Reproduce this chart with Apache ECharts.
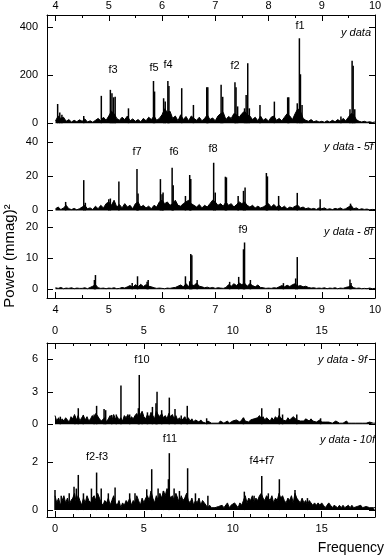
<!DOCTYPE html>
<html>
<head>
<meta charset="utf-8">
<script src="https://cdn.jsdelivr.net/npm/echarts@6/dist/echarts.min.js"></script>
<style>
html, body { margin: 0; padding: 0; background: #fff; }
#chart { width: 385px; height: 556px; }
</style>
</head>
<body>
<div id="chart"></div>
<script>
// noise floors are sampled on a regular frequency grid
var topStart = 4.0, topStep = 0.05;
var lowStart = 0.0, lowStep = 0.1;

// panel 1: y data
var noise1 = [
  10, 30, 20, 25, 8, 15, 5, 12, 6, 14,
  8, 18, 5, 10, 4, 12, 20, 10, 25, 12,
  30, 50, 40, 20, 12, 25, 15, 30, 10, 18,
  8, 15, 6, 20, 10, 25, 15, 30, 12, 20,
  35, 60, 45, 50, 20, 30, 10, 35, 15, 28,
  10, 30, 20, 12, 25, 10, 20, 35, 15, 22,
  10, 30, 40, 45, 15, 28, 20, 40, 35, 25,
  40, 50, 35, 30, 15, 25, 10, 30, 12, 20,
  8, 25, 30, 12, 20, 10, 25, 40, 30, 15,
  40, 60, 50, 20, 12, 8, 15, 6, 10, 5,
  8, 4, 10, 5, 12, 6, 15, 8, 20, 10,
  25, 40, 35, 15, 8, 5, 8, 4, 6, 3, 5
];
var peaks1 = [
  [4.04, 80], [4.08, 45], [4.12, 35], [4.53, 30], [4.86, 114],
  [5.03, 139], [5.06, 125], [5.09, 108], [5.12, 110], [5.37, 62],
  [5.84, 176], [5.86, 132], [6.03, 104], [6.06, 90], [6.11, 176],
  [6.13, 155], [6.37, 146], [6.59, 76], [6.84, 150], [6.86, 150],
  [7.11, 160], [7.14, 110], [7.37, 171], [7.39, 150], [7.42, 70],
  [7.55, 62], [7.58, 118], [7.61, 250], [7.64, 62], [7.84, 76],
  [8.11, 90], [8.36, 108], [8.38, 108], [8.54, 83], [8.58, 354],
  [8.60, 204], [8.63, 76], [9.36, 28], [9.53, 58], [9.57, 260],
  [9.59, 239], [9.62, 58]
];

// panel 2: y data - 5f
var noise2 = [
  1, 2, 0.5, 1.5, 3, 1, 0.5, 1.2, 0.4, 1,
  2, 3, 1, 1.5, 0.5, 2.5, 1, 3, 1.5, 4,
  5, 3, 6, 2, 3.5, 1.5, 4, 2, 3, 1,
  4, 5, 2, 3, 1.5, 2.5, 1, 3, 2, 5,
  6, 4, 5, 3, 4, 6, 3, 2.5, 4, 5,
  6, 4, 3, 2, 3.5, 1.5, 3, 2, 4, 6,
  5, 3, 4, 2.5, 5, 3, 4, 2, 3.5, 5,
  4, 5, 3, 2, 3, 1.5, 2.5, 1.5, 2, 3,
  4, 2, 3.5, 2, 3, 1.5, 2.5, 1, 2, 1.5,
  2.5, 3, 1.5, 2, 1, 1.5, 0.8, 1.2, 0.6, 1.5,
  1, 1.5, 0.6, 1, 0.5, 1.2, 0.8, 1.5, 0.6, 1,
  2, 3, 1, 1.5, 0.5, 1, 0.6, 0.8, 0.4, 0.6, 0.5
];
var peaks2 = [
  [4.19, 5], [4.53, 17.8], [4.56, 4.5], [5.0, 6.5], [5.03, 7],
  [5.19, 17], [5.53, 24.4], [5.55, 10], [5.97, 18.4], [6.0, 9.5],
  [6.02, 10.5], [6.19, 25], [6.21, 14.8], [6.44, 8.5], [6.52, 20.8],
  [6.54, 18.4], [6.97, 28], [7.0, 10.5], [7.19, 19.8], [7.21, 19.4],
  [7.43, 8.5], [7.53, 11.5], [7.56, 13.5], [7.96, 22], [7.98, 20],
  [8.19, 8.5], [8.54, 10.3], [8.97, 6.5], [9.54, 4]
];

// panel 3: y data - 8f
var noise3 = [
  0.5, 0.3, 0.6, 0.2, 0.4, 0.3, 0.5, 0.2, 0.4, 0.3,
  0.3, 0.5, 0.2, 0.6, 1, 1.5, 0.5, 0.3, 0.4, 0.2,
  0.4, 0.3, 0.5, 0.2, 0.3, 0.6, 0.4, 0.8, 1.2, 0.6,
  1.5, 0.8, 1.6, 0.9, 1.5, 1, 0.8, 0.5, 0.3, 0.4,
  0.3, 0.2, 0.4, 0.3, 0.5, 0.6, 1, 1.4, 0.8, 1.8,
  1, 1.5, 1.2, 2, 1, 0.8, 0.5, 0.7, 0.4, 0.6,
  0.3, 0.5, 0.4, 0.3, 0.6, 1.5, 1, 1.8, 1.2, 2,
  1.5, 2, 1, 1.8, 1.2, 0.8, 1.4, 0.6, 0.5, 0.3,
  0.4, 0.3, 0.5, 0.4, 0.8, 1.2, 0.8, 1.3, 0.9, 1.5,
  1.8, 1, 1.2, 0.8, 1, 0.6, 0.4, 0.5, 0.3, 0.4,
  0.3, 0.5, 0.2, 0.4, 0.3, 0.5, 0.2, 0.4, 0.3, 0.6,
  0.8, 1.2, 0.5, 0.3, 0.4, 0.2, 0.3, 0.2, 0.4, 0.2, 0.3
];
var peaks3 = [
  [4.73, 3], [4.75, 4.6], [5.44, 2], [5.54, 4.2], [5.72, 2.4],
  [5.74, 3], [6.44, 4.2], [6.52, 2.6], [6.54, 11.4], [6.56, 11],
  [6.66, 3], [7.27, 2.4], [7.44, 4], [7.53, 12.9], [7.55, 15.1],
  [7.66, 3], [8.28, 2], [8.51, 3.5], [8.54, 10.4], [9.53, 3.2],
  [9.55, 2]
];

// panel 4: y data - 9f
var noise4 = [
  0.8, 0.3, 0.6, 0.2, 0.5, 0.3, 0.6, 0.4, 0.2, 0.7,
  0.5, 0.9, 0.4, 0.8, 0.3, 0.6, 0.8, 0.4, 0.7, 0.3,
  0.5, 0.8, 0.6, 1.0, 0.9, 0.5, 0.3, 0.4, 0.6, 0.2,
  0.5, 0.8, 0.3, 0.9, 0.5, 0.7, 0.4, 0.6, 0.3, 0.8,
  0.6, 0.9, 0.4, 0.7, 0.5, 0.8, 1.0, 0.6, 0.9, 1.2,
  0.7, 0.5, 0.9, 0.6, 1.1, 0.8, 0.5, 1.2, 0.9, 0.7,
  1.0, 0.6, 0.8, 0.5, 1.0, 0.7, 0.9, 0.5, 0.8, 0.4,
  0.6, 0.3, 0.5, 0.7, 0.4, 0.6, 0.3, 0.5, 0.2, 0.4,
  0.3, 0.2, 0.4, 0.2, 0.3, 0.1, 0.3, 0.2, 0.1, 0.2,
  0.1, 0.2, 0.1, 0.3, 0.2, 0.1, 0.2, 0.3, 0.1, 0.2,
  0.3, 0.2, 0.4, 0.3, 0.2, 0.4, 0.6, 0.3, 0.4, 0.2,
  0.4, 0.3, 0.5, 0.4, 0.6, 0.8, 0.5, 0.7, 0.4, 0.6,
  0.5, 0.3, 0.6, 0.4, 0.7, 0.5, 0.8, 0.6, 0.4, 0.5,
  0.3, 0.6, 0.4, 0.5, 0.7, 0.6, 0.4, 0.5, 0.3, 0.4,
  0.3, 0.5, 0.4, 0.3, 0.5, 0.3, 0.4, 0.2, 0.3, 0.4,
  0.2, 0.3, 0.2, 0.3, 0.2, 0.3, 0.1, 0.2, 0.3, 0.2,
  0.1, 0.2, 0.1, 0.2, 0.3, 0.1, 0.2, 0.1, 0.2, 0.1,
  0.2, 0.1, 0.2, 0.1, 0.2, 0.1, 0.1, 0.2, 0.1, 0.1, 0.1
];
var peaks4 = [
  [0.3, 0.7], [1.12, 0.75], [1.31, 1.48], [1.59, 0.86], [2.2, 0.9],
  [2.34, 1.7], [2.76, 1.4], [2.85, 1.3], [3.19, 0.86], [3.45, 0.9],
  [3.71, 3.57], [4.2, 0.9], [4.69, 1.48], [4.74, 4.55], [4.9, 1.0],
  [5.2, 1.1], [5.48, 1.6], [5.68, 1.94], [5.74, 3.0], [6.0, 1.3],
  [6.43, 2.46], [6.75, 1.4], [7.1, 0.8], [7.44, 1.7], [8.53, 0.55],
  [10.6, 0.6], [11.63, 1.48], [12.62, 1.48], [12.8, 0.9], [13.6, 0.9],
  [14.94, 0.55]
];

// panel 5: y data - 10f
var noise5 = [
  0.6, 0.3, 0.5, 0.2, 0.4, 0.6, 0.3, 0.5, 0.2, 0.4,
  0.5, 0.7, 0.3, 0.6, 0.4, 0.2, 0.5, 0.3, 0.6, 0.4,
  0.3, 0.5, 0.6, 0.4, 0.7, 0.5, 0.3, 0.2, 0.4, 0.3,
  0.5, 0.2, 0.4, 0.6, 0.3, 0.2, 0.4, 0.1, 0.3, 0.2,
  0.4, 0.3, 0.5, 0.2, 0.4, 0.3, 0.6, 0.4, 0.2, 0.5,
  0.3, 0.5, 0.6, 0.4, 0.8, 0.5, 0.3, 0.6, 0.4, 0.7,
  0.5, 0.8, 0.6, 0.9, 0.7, 0.5, 0.6, 0.4, 0.7, 0.5,
  0.3, 0.6, 0.4, 0.5, 0.7, 0.4, 0.3, 0.5, 0.2, 0.4,
  0.3, 0.5, 0.2, 0.4, 0.3, 0.2, 0.1, 0.2, 0.1, 0.1,
  0.1, 0.05, 0.15, 0.1, 0.2, 0.1, 0.1, 0.3, 0.1, 0.2,
  0.2, 0.3, 0.2, 0.1, 0.3, 0.2, 0.4, 0.6, 0.3, 0.5,
  0.4, 0.6, 0.3, 0.5, 0.4, 0.6, 0.7, 0.5, 0.4, 0.6,
  0.5, 0.4, 0.6, 0.3, 0.5, 0.4, 0.7, 0.5, 0.6, 0.4,
  0.3, 0.5, 0.4, 0.6, 0.3, 0.7, 0.5, 0.4, 0.3, 0.5,
  0.3, 0.4, 0.2, 0.4, 0.3, 0.2, 0.3, 0.2, 0.3, 0.2,
  0.3, 0.2, 0.1, 0.2, 0.3, 0.2, 0.1, 0.2, 0.2, 0.1,
  0.2, 0.1, 0.2, 0.1, 0.15, 0.2, 0.1, 0.2, 0.1, 0.1,
  0.15, 0.1, 0.2, 0.1, 0.1, 0.15, 0.1, 0.1, 0.05, 0.1, 0.1
];
var peaks5 = [
  [0.0, 0.84], [0.35, 0.6], [0.8, 0.7], [1.07, 0.98], [1.2, 0.9],
  [1.31, 1.47], [1.6, 0.7], [2.05, 0.9], [2.34, 1.57], [2.6, 0.9],
  [3.0, 0.7], [3.38, 0.94], [4.2, 0.7], [4.5, 0.7], [5.16, 0.87],
  [5.44, 1.71], [5.8, 0.9], [6.1, 0.8], [6.38, 1.29], [6.43, 2.38],
  [6.7, 0.9], [7.0, 0.8], [7.46, 1.75], [7.9, 0.7], [8.6, 0.6],
  [10.65, 0.77], [11.2, 0.6], [11.63, 1.43], [12.0, 0.7], [12.62, 1.29],
  [13.5, 0.84], [14.2, 0.5]
];

// tick labels
var ticksTop = [4, 5, 6, 7, 8, 9, 10];
var minorTop = [4.5, 5.5, 6.5, 7.5, 8.5, 9.5];
var ticksLow = [0, 5, 10, 15];
var minorLow = [1, 2, 3, 4, 6, 7, 8, 9, 11, 12, 13, 14, 16, 17];
var yTicks = [[0, 200, 400], [0, 20, 40], [0, 10, 20], [0, 3, 6], [0, 2]];
var yRanges = [[-20, 451], [-1.5, 48.4], [-2.8, 24.6], [-0.53, 7.5], [-0.29, 3.35]];

var font = '"Liberation Sans", Arial, sans-serif';
var ink = '#000';

function noiseLine(arr, start, step) {
  return arr.map(function (v, i) {
    return [+(start + i * step).toFixed(3), v];
  });
}

var grids = [
  { left: 47, right: 10, top: 15, height: 113 },
  { left: 47, right: 10, top: 128, height: 85 },
  { left: 47, right: 10, top: 213, height: 85 },
  { left: 47, right: 10, top: 343, height: 87 },
  { left: 47, right: 10, top: 430, height: 87 }
];

function xAx(grid, pos, lo, hi, ticks, len, labels, margin) {
  return {
    type: 'value', gridIndex: grid, position: pos, min: lo, max: hi,
    axisLine: { show: labels, onZero: false, lineStyle: { color: ink, width: 1 } },
    axisTick: { show: true, inside: true, length: len, customValues: ticks, lineStyle: { color: ink } },
    axisLabel: { show: labels, customValues: ticks, color: ink, fontSize: 11, fontFamily: font, margin: margin },
    splitLine: { show: false }
  };
}

var xAxes = [
  xAx(0, 'top', 3.84, 10, ticksTop, 6, true, 4),
  xAx(0, 'top', 3.84, 10, minorTop, 3, false, 4),
  { type: 'value', gridIndex: 1, min: 3.84, max: 10, show: false },
  xAx(2, 'bottom', 3.84, 10, ticksTop, 6, true, 6),
  xAx(2, 'bottom', 3.84, 10, minorTop, 3, false, 6),
  xAx(3, 'top', -0.45, 18, ticksLow, 6, true, 7),
  xAx(3, 'top', -0.45, 18, minorLow, 3, false, 7),
  xAx(4, 'bottom', -0.45, 18, ticksLow, 6, true, 6),
  xAx(4, 'bottom', -0.45, 18, minorLow, 3, false, 6)
];
var xOfGrid = [0, 2, 3, 5, 7];

var yAxes = [];
for (var i = 0; i < 5; i++) {
  ['left', 'right'].forEach(function (pos) {
    yAxes.push({
      type: 'value', gridIndex: i, position: pos,
      min: yRanges[i][0], max: yRanges[i][1],
      axisLine: { show: true, onZero: false, lineStyle: { color: ink, width: 1 } },
      axisTick: { show: true, inside: true, length: 6, customValues: yTicks[i], lineStyle: { color: ink } },
      axisLabel: { show: pos === 'left', customValues: yTicks[i], color: ink, fontSize: 11, fontFamily: font, margin: 9 },
      splitLine: { show: false }
    });
  });
}

var noises = [noiseLine(noise1, topStart, topStep), noiseLine(noise2, topStart, topStep),
  noiseLine(noise3, topStart, topStep), noiseLine(noise4, lowStart, lowStep),
  noiseLine(noise5, lowStart, lowStep)];
var peaks = [peaks1, peaks2, peaks3, peaks4, peaks5];

var series = [];
for (var k = 0; k < 5; k++) {
  series.push({
    type: 'line', xAxisIndex: xOfGrid[k], yAxisIndex: 2 * k,
    data: noises[k], symbol: 'none', silent: true,
    lineStyle: { color: ink, width: 1 },
    areaStyle: { color: ink, opacity: 1 }
  });
  series.push({
    type: 'bar', xAxisIndex: xOfGrid[k], yAxisIndex: 2 * k,
    data: peaks[k], barWidth: 1.5, silent: true,
    itemStyle: { color: ink }
  });
}

function txt(x, y, s, align, italic, size) {
  return {
    type: 'text', x: x, y: y, silent: true,
    style: {
      text: s, fill: ink, font: (italic ? 'italic ' : '') + (size || 11) + 'px ' + font,
      align: align || 'center', verticalAlign: 'middle'
    }
  };
}

var texts = [
  txt(300, 26, 'f1'), txt(113, 70, 'f3'), txt(154, 68, 'f5'), txt(168, 65, 'f4'),
  txt(235, 66, 'f2'), txt(371, 33, 'y data', 'right', true),
  txt(137, 152, 'f7'), txt(174, 152, 'f6'), txt(213, 149, 'f8'),
  txt(373, 147, 'y data - 5f', 'right', true),
  txt(243, 230, 'f9'), txt(373, 232, 'y data - 8f', 'right', true),
  txt(142, 360, 'f10'), txt(367, 360, 'y data - 9f', 'right', true),
  txt(170, 439, 'f11'), txt(97, 457, 'f2-f3'), txt(262, 461, 'f4+f7'),
  txt(375, 440, 'y data - 10f', 'right', true),
  txt(384, 548, 'Frequency', 'right', false, 14)
];
var ylab = txt(10, 256, 'Power (mmag)\u00B2', 'center', false, 15);
ylab.rotation = Math.PI / 2;
texts.push(ylab);

var chart = echarts.init(document.getElementById('chart'));
chart.setOption({
  animation: false,
  backgroundColor: '#fff',
  grid: grids,
  xAxis: xAxes,
  yAxis: yAxes,
  series: series,
  graphic: texts
});
</script>
</body>
</html>
